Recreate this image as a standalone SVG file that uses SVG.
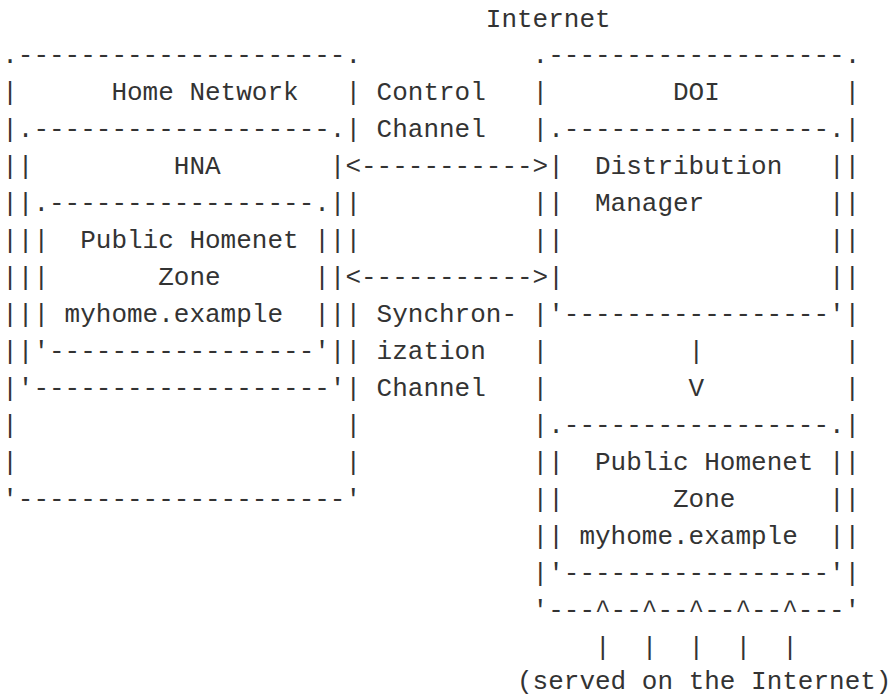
<svg xmlns="http://www.w3.org/2000/svg" width="892" height="697" viewBox="0 0 892 697">
<style>
text{font-family:"Liberation Mono","DejaVu Sans Mono",monospace;font-size:26px;fill:#333;white-space:pre}
</style>
<rect width="892" height="697" fill="#fff"/>
<g transform="translate(-1,0)">
<g id="home-network">
<text x="3.2" y="63.45">.---------------------.</text>
<text x="112.4" y="100.4">Home Network</text>
<text><tspan x="3.2" y="100.4">|</tspan><tspan x="3.2" y="137.35">|</tspan><tspan x="3.2" y="174.3">|</tspan><tspan x="3.2" y="211.25">|</tspan><tspan x="3.2" y="248.2">|</tspan><tspan x="3.2" y="285.15">|</tspan><tspan x="3.2" y="322.1">|</tspan><tspan x="3.2" y="359.05">|</tspan><tspan x="3.2" y="396">|</tspan><tspan x="3.2" y="432.95">|</tspan><tspan x="3.2" y="469.9">|</tspan></text>
<text><tspan x="346.4" y="100.4">|</tspan><tspan x="346.4" y="137.35">|</tspan><tspan x="346.4" y="211.25">|</tspan><tspan x="346.4" y="248.2">|</tspan><tspan x="346.4" y="322.1">|</tspan><tspan x="346.4" y="359.05">|</tspan><tspan x="346.4" y="396">|</tspan><tspan x="346.4" y="432.95">|</tspan><tspan x="346.4" y="469.9">|</tspan></text>
<text x="3.2" y="506.85">'---------------------'</text>
</g>
<g id="hna">
<text x="18.8" y="137.35">.-------------------.</text>
<text x="174.8" y="174.3">HNA</text>
<text><tspan x="18.8" y="174.3">|</tspan><tspan x="18.8" y="211.25">|</tspan><tspan x="18.8" y="248.2">|</tspan><tspan x="18.8" y="285.15">|</tspan><tspan x="18.8" y="322.1">|</tspan><tspan x="18.8" y="359.05">|</tspan></text>
<text><tspan x="330.8" y="174.3">|</tspan><tspan x="330.8" y="211.25">|</tspan><tspan x="330.8" y="248.2">|</tspan><tspan x="330.8" y="285.15">|</tspan><tspan x="330.8" y="322.1">|</tspan><tspan x="330.8" y="359.05">|</tspan></text>
<text x="18.8" y="396">'-------------------'</text>
</g>
<g id="hna-zone">
<text x="34.4" y="211.25">.-----------------.</text>
<text x="81.2" y="248.2">Public Homenet</text>
<text x="159.2" y="285.15">Zone</text>
<text x="65.6" y="322.1">myhome.example</text>
<text><tspan x="34.4" y="248.2">|</tspan><tspan x="34.4" y="285.15">|</tspan><tspan x="34.4" y="322.1">|</tspan></text>
<text><tspan x="315.2" y="248.2">|</tspan><tspan x="315.2" y="285.15">|</tspan><tspan x="315.2" y="322.1">|</tspan></text>
<text x="34.4" y="359.05">'-----------------'</text>
</g>
<g id="doi">
<text x="533.6" y="63.45">.-------------------.</text>
<text x="674" y="100.4">DOI</text>
<text><tspan x="533.6" y="100.4">|</tspan><tspan x="533.6" y="137.35">|</tspan><tspan x="533.6" y="211.25">|</tspan><tspan x="533.6" y="248.2">|</tspan><tspan x="533.6" y="322.1">|</tspan><tspan x="533.6" y="359.05">|</tspan><tspan x="533.6" y="396">|</tspan><tspan x="533.6" y="432.95">|</tspan><tspan x="533.6" y="469.9">|</tspan><tspan x="533.6" y="506.85">|</tspan><tspan x="533.6" y="543.8">|</tspan><tspan x="533.6" y="580.75">|</tspan></text>
<text><tspan x="845.6" y="100.4">|</tspan><tspan x="845.6" y="137.35">|</tspan><tspan x="845.6" y="174.3">|</tspan><tspan x="845.6" y="211.25">|</tspan><tspan x="845.6" y="248.2">|</tspan><tspan x="845.6" y="285.15">|</tspan><tspan x="845.6" y="322.1">|</tspan><tspan x="845.6" y="359.05">|</tspan><tspan x="845.6" y="396">|</tspan><tspan x="845.6" y="432.95">|</tspan><tspan x="845.6" y="469.9">|</tspan><tspan x="845.6" y="506.85">|</tspan><tspan x="845.6" y="543.8">|</tspan><tspan x="845.6" y="580.75">|</tspan></text>
<text><tspan x="533.6" y="617.7">'---</tspan><tspan x="611.6" y="617.7">--</tspan><tspan x="658.4" y="617.7">--</tspan><tspan x="705.2" y="617.7">--</tspan><tspan x="752" y="617.7">--</tspan><tspan x="798.8" y="617.7">---'</tspan></text>
</g>
<g id="distribution-manager">
<text x="549.2" y="137.35">.-----------------.</text>
<text x="596" y="174.3">Distribution</text>
<text x="596" y="211.25">Manager</text>
<text><tspan x="549.2" y="174.3">|</tspan><tspan x="549.2" y="211.25">|</tspan><tspan x="549.2" y="248.2">|</tspan><tspan x="549.2" y="285.15">|</tspan></text>
<text><tspan x="830" y="174.3">|</tspan><tspan x="830" y="211.25">|</tspan><tspan x="830" y="248.2">|</tspan><tspan x="830" y="285.15">|</tspan></text>
<text x="549.2" y="322.1">'-----------------'</text>
</g>
<g id="doi-zone">
<text x="549.2" y="432.95">.-----------------.</text>
<text x="596" y="469.9">Public Homenet</text>
<text x="674" y="506.85">Zone</text>
<text x="580.4" y="543.8">myhome.example</text>
<text><tspan x="549.2" y="469.9">|</tspan><tspan x="549.2" y="506.85">|</tspan><tspan x="549.2" y="543.8">|</tspan></text>
<text><tspan x="830" y="469.9">|</tspan><tspan x="830" y="506.85">|</tspan><tspan x="830" y="543.8">|</tspan></text>
<text x="549.2" y="580.75">'-----------------'</text>
</g>
<g id="connectors">
<text x="346.4" y="174.3">&lt;-----------&gt;</text>
<text x="346.4" y="285.15">&lt;-----------&gt;</text>
<text x="689.6" y="359.05">|</text>
<text x="689.6" y="396">V</text>
<text><tspan x="596" y="617.7">^</tspan><tspan x="642.8" y="617.7">^</tspan><tspan x="689.6" y="617.7">^</tspan><tspan x="736.4" y="617.7">^</tspan><tspan x="783.2" y="617.7">^</tspan></text>
<text><tspan x="596" y="654.65">|</tspan><tspan x="642.8" y="654.65">|</tspan><tspan x="689.6" y="654.65">|</tspan><tspan x="736.4" y="654.65">|</tspan><tspan x="783.2" y="654.65">|</tspan></text>
</g>
<g id="labels">
<text x="486.8" y="26.5">Internet</text>
<text x="377.6" y="100.4">Control</text>
<text x="377.6" y="137.35">Channel</text>
<text x="377.6" y="322.1">Synchron-</text>
<text x="377.6" y="359.05">ization</text>
<text x="377.6" y="396">Channel</text>
<text x="518" y="689">(served on the Internet)</text>
</g>
</g>
</svg>
